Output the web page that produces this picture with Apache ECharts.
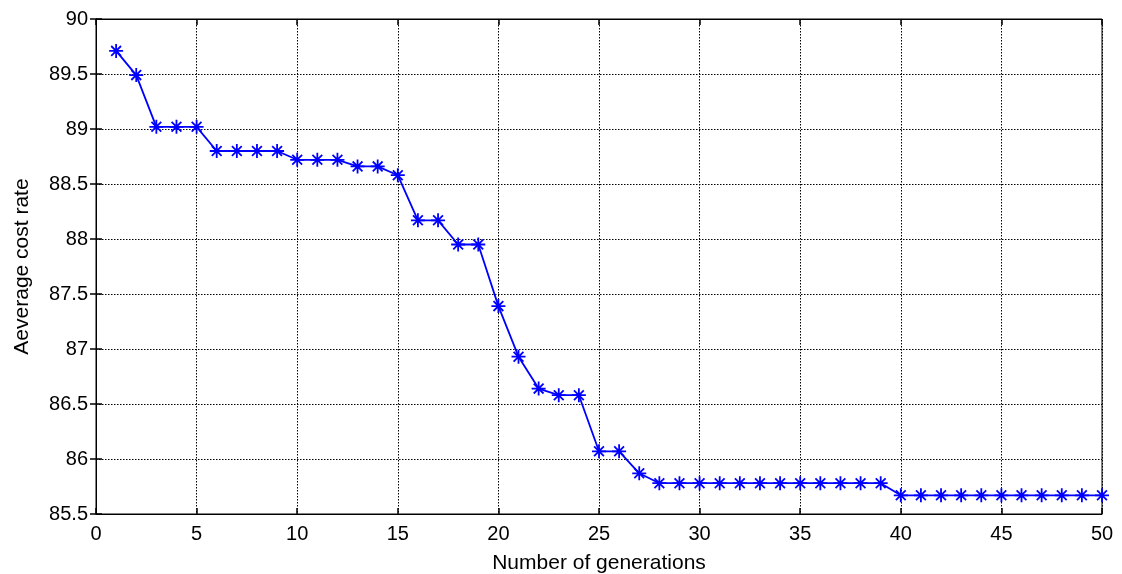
<!DOCTYPE html>
<html>
<head>
<meta charset="utf-8">
<script src="https://cdn.jsdelivr.net/npm/echarts@6/dist/echarts.min.js"></script>
<style>html,body{margin:0;padding:0;background:#fff}#c{width:1122px;height:574px}</style>
</head>
<body>
<div id="c"></div>
<script>
const generations = [1,2,3,4,5,6,7,8,9,10,11,12,13,14,15,16,17,18,19,20,21,22,23,24,25,26,27,28,29,30,31,32,33,34,35,36,37,38,39,40,41,42,43,44,45,46,47,48,49,50];
const costRate = [89.71,89.49,89.02,89.02,89.02,88.80,88.80,88.80,88.80,88.72,88.72,88.72,88.66,88.66,88.58,88.17,88.17,87.95,87.95,87.39,86.93,86.64,86.58,86.58,86.07,86.07,85.87,85.78,85.78,85.78,85.78,85.78,85.78,85.78,85.78,85.78,85.78,85.78,85.78,85.67,85.67,85.67,85.67,85.67,85.67,85.67,85.67,85.67,85.67,85.67];
const xTitle = 'Number of generations';
const yTitle = 'Aeverage cost rate';

const font = 'Liberation Sans, Arial, sans-serif';
const chart = echarts.init(document.getElementById('c'), null, {renderer:'canvas'});
const axisCommon = {
  axisLine:{show:true, lineStyle:{color:'#000', width:1}},
  axisTick:{show:true, inside:true, length:6, lineStyle:{color:'#000', width:1.5}},
  splitLine:{show:true, lineStyle:{color:'#000', type:[1.5,1.5], width:1}},
  axisLabel:{color:'#000', fontFamily:font, fontSize:20},
  nameTextStyle:{color:'#000', fontFamily:font, fontSize:21}
};
chart.setOption({
  animation:false,
  backgroundColor:'#fff',
  grid:{left:96, right:20, top:19, bottom:60, show:true, borderColor:'#000', borderWidth:1,
        containLabel:false, outerBoundsMode:'none'},
  xAxis:[Object.assign({}, axisCommon, {
    type:'value', min:0, max:50, interval:5,
    name:xTitle, nameLocation:'middle', nameGap:39,
    axisLabel:Object.assign({}, axisCommon.axisLabel, {margin:10})
  }),{
    type:'value', min:0, max:50, interval:5, position:'top',
    axisLine:{show:true, lineStyle:{color:'#000'}},
    axisTick:{show:true, inside:true, length:6, lineStyle:{color:'#000', width:1.5}},
    axisLabel:{show:false}, splitLine:{show:false}
  }],
  yAxis:[Object.assign({}, axisCommon, {
    type:'value', min:85.5, max:90, interval:0.5,
    name:yTitle, nameLocation:'middle', nameGap:63, nameRotate:90,
    axisLabel:Object.assign({}, axisCommon.axisLabel, {margin:8, formatter:v=>String(+v.toFixed(1))})
  }),{
    type:'value', min:85.5, max:90, interval:0.5, position:'right',
    axisLine:{show:true, lineStyle:{color:'#000'}},
    axisTick:{show:true, inside:true, length:6, lineStyle:{color:'#000', width:1.5}},
    axisLabel:{show:false}, splitLine:{show:false}
  }],
  series:[{
    type:'line',
    data:generations.map((g,i)=>[g,costRate[i]]),
    lineStyle:{color:'#0000ff', width:1.8},
    symbol:'path://M0,-10L0,10M-10,0L10,0M-7,-7L7,7M-7,7L7,-7',
    symbolSize:14,
    showAllSymbol:true,
    itemStyle:{color:'#0000ff', borderColor:'#0000ff', borderWidth:1.8},
    z:5
  }]
});
</script>
</body>
</html>
